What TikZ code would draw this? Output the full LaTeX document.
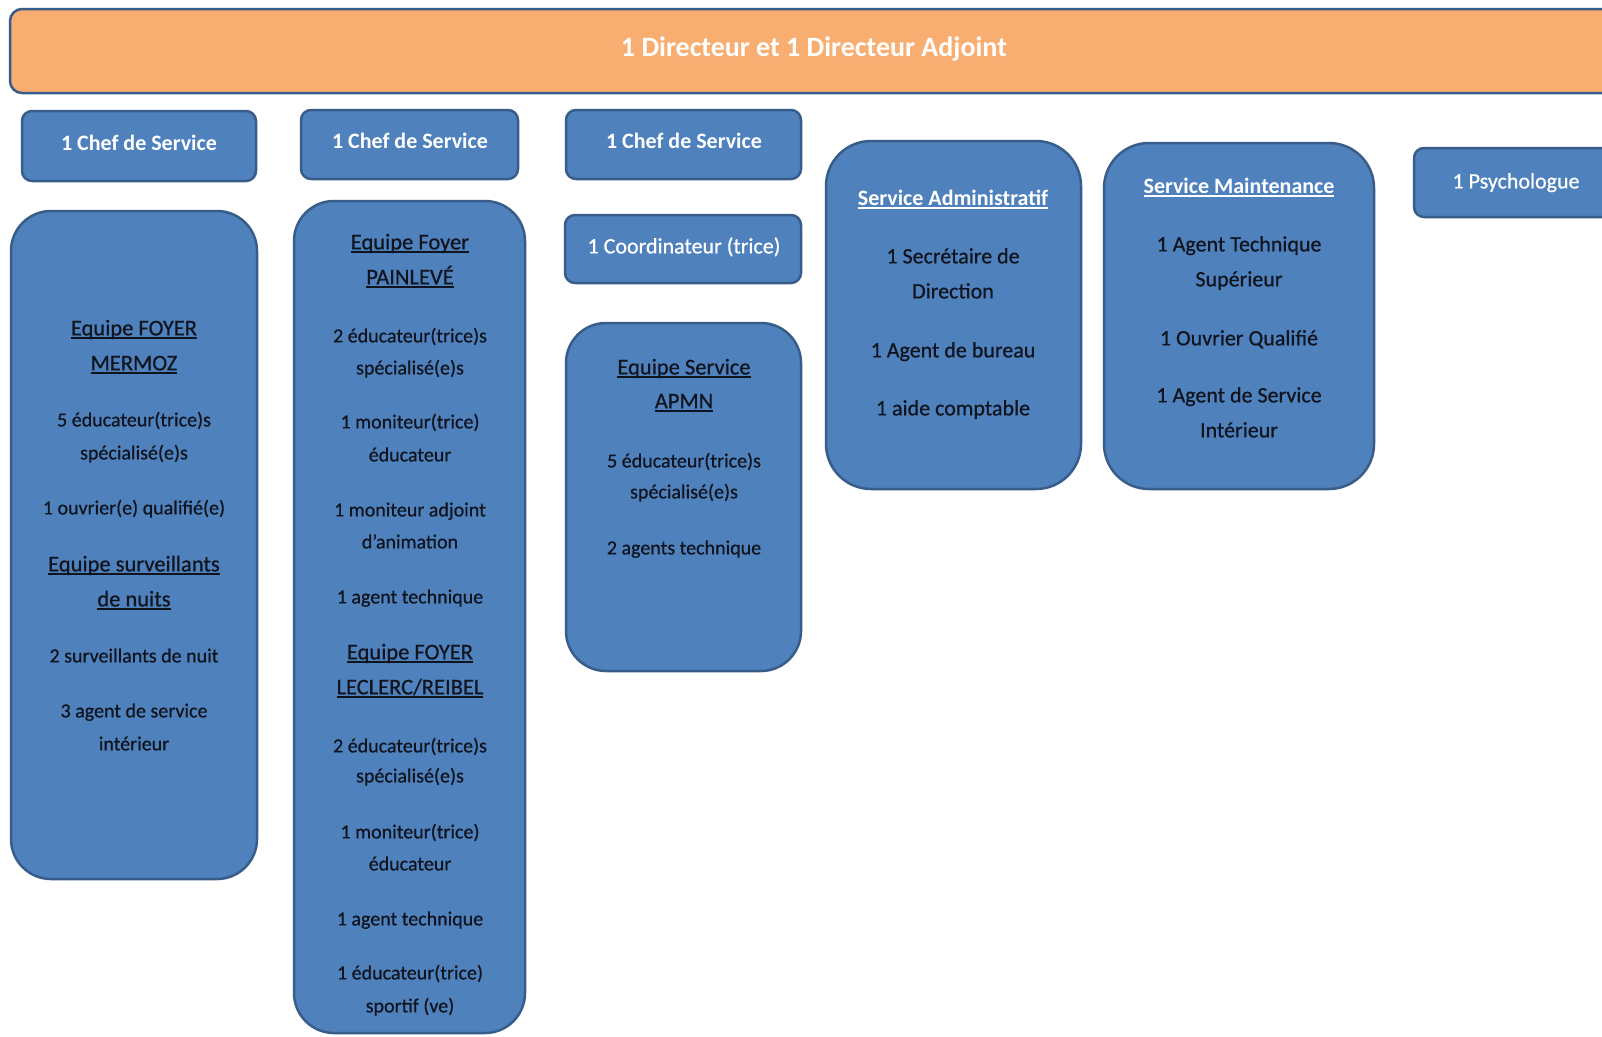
\documentclass[tikz,border=0pt]{standalone}
\usepackage{fontspec}
\setmainfont{Carlito}
\newfontfamily\heavyfont[FakeBold=0.6]{Carlito}
\definecolor{boxblue}{RGB}{79,129,189}
\definecolor{boxline}{RGB}{56,93,138}
\definecolor{orangefill}{RGB}{247,174,112}
\definecolor{darktxt}{RGB}{16,20,30}
\newcommand\myul[1]{\setbox0\hbox{#1}\rlap{\rule[-3.2pt]{\wd0}{1.6pt}}\box0}
\tikzset{
  card/.style={draw=boxline, line width=2.5pt, fill=boxblue, rounded corners=#1,
    anchor=north west, inner sep=0pt, outer sep=0pt},
  card/.default=10pt,
  hdrtext/.style={text=white, font=\fontsize{28}{32}\selectfont\bfseries, anchor=mid, inner sep=0pt, yshift=-8pt},
  wtext/.style={text=white, font=\heavyfont\fontsize{22}{26}\selectfont, anchor=mid, inner sep=0pt, yshift=-6pt},
  wbold/.style={text=white, font=\fontsize{22}{26}\selectfont\bfseries, anchor=mid, inner sep=0pt, yshift=-6pt},
  ttl/.style={text=darktxt, font=\heavyfont\fontsize{22.5}{26}\selectfont, anchor=mid, inner sep=0pt, yshift=-6pt},
  itm/.style={text=darktxt, font=\heavyfont\fontsize{20}{24}\selectfont, anchor=mid, inner sep=0pt, yshift=-6pt},
  itmL/.style={text=darktxt, font=\heavyfont\fontsize{22}{26}\selectfont, anchor=mid, inner sep=0pt, yshift=-6pt},
}
\begin{document}
\begin{tikzpicture}[x=1pt,y=-1pt]
\path[use as bounding box] (0,0) rectangle (1602,1036);
\clip (0,0) rectangle (1602,1036);
\fill[white] (0,0) rectangle (1602,1036);

% boxes
\node[card=12pt, fill=orangefill, minimum width=1610pt, minimum height=84pt] (dir) at (10,9) {};
\node[card, minimum width=234pt, minimum height=70pt] (chef1) at (22,111) {};
\node[card, minimum width=217pt, minimum height=69pt] (chef2) at (301,110) {};
\node[card, minimum width=235pt, minimum height=69pt] (chef3) at (566,110) {};
\node[card, minimum width=236pt, minimum height=68pt] (coord) at (565,215) {};
\node[card, minimum width=226pt, minimum height=69pt] (psy) at (1414,148) {};
\node[card=40pt, minimum width=246pt, minimum height=668pt] (col1) at (11,211) {};
\node[card=40pt, minimum width=231pt, minimum height=832pt] (col2) at (294,201) {};
\node[card=40pt, minimum width=235pt, minimum height=348pt] (apmn) at (566,323) {};
\node[card=45pt, minimum width=255pt, minimum height=348pt] (admin) at (826,141) {};
\node[card=45pt, minimum width=270pt, minimum height=346pt] (maint) at (1104,143) {};

% header texts
\node[hdrtext] (dirt) at (814,46) {1 Directeur et 1 Directeur Adjoint};
\node[wbold] (chef1t) at (139,142) {1 Chef de Service};
\node[wbold] (chef2t) at (410,140) {1 Chef de Service};
\node[wbold] (chef3t) at (684,140) {1 Chef de Service};
\node[wtext] (coordt) at (684,245) {1 Coordinateur (trice)};
\node[wtext] (psyt) at (1516,180) {1 Psychologue};

% column 1
\node[ttl] (c1a) at (134,327) {\myul{Equipe FOYER}};
\node[ttl] (c1b) at (134,362) {\myul{MERMOZ}};
\node[itm] (c1c) at (134,418) {5 éducateur(trice)s};
\node[itm] (c1d) at (134,451) {spécialisé(e)s};
\node[itm] (c1e) at (134,506) {1 ouvrier(e) qualifié(e)};
\node[ttl] (c1f) at (134,563) {\myul{Equipe surveillants}};
\node[ttl] (c1g) at (134,598) {\myul{de nuits}};
\node[itm] (c1h) at (134,654) {2 surveillants de nuit};
\node[itm] (c1i) at (134,709) {3 agent de service};
\node[itm] (c1j) at (134,742) {intérieur};

% column 2
\node[ttl] (c2a) at (410,241) {\myul{Equipe Foyer}};
\node[ttl] (c2b) at (410,276) {\myul{PAINLEVÉ}};
\node[itm] (c2c) at (410,334) {2 éducateur(trice)s};
\node[itm] (c2d) at (410,366) {spécialisé(e)s};
\node[itm] (c2e) at (410,420) {1 moniteur(trice)};
\node[itm] (c2f) at (410,453) {éducateur};
\node[itm] (c2g) at (410,508) {1 moniteur adjoint};
\node[itm] (c2h) at (410,540) {d’animation};
\node[itm] (c2i) at (410,595) {1 agent technique};
\node[ttl] (c2j) at (410,651) {\myul{Equipe FOYER}};
\node[ttl] (c2k) at (410,686) {\myul{LECLERC/REIBEL}};
\node[itm] (c2l) at (410,744) {2 éducateur(trice)s};
\node[itm] (c2m) at (410,774) {spécialisé(e)s};
\node[itm] (c2n) at (410,830) {1 moniteur(trice)};
\node[itm] (c2o) at (410,862) {éducateur};
\node[itm] (c2p) at (410,917) {1 agent technique};
\node[itm] (c2q) at (410,971) {1 éducateur(trice)};
\node[itm] (c2r) at (410,1004) {sportif (ve)};

% APMN
\node[ttl] (apa) at (684,366) {\myul{Equipe Service}};
\node[ttl] (apb) at (684,400) {\myul{APMN}};
\node[itm] (apc) at (684,459) {5 éducateur(trice)s};
\node[itm] (apd) at (684,490) {spécialisé(e)s};
\node[itm] (ape) at (684,546) {2 agents technique};

% Administratif
\node[wbold] (ada) at (953,197) {\myul{Service Administratif}};
\node[itmL] (adb) at (953,255) {1 Secrétaire de};
\node[itmL] (adc) at (953,290) {Direction};
\node[itmL] (add) at (953,349) {1 Agent de bureau};
\node[itmL] (ade) at (953,407) {1 aide comptable};

% Maintenance
\node[wbold] (mta) at (1239,185) {\myul{Service Maintenance}};
\node[itmL] (mtb) at (1239,243) {1 Agent Technique};
\node[itmL] (mtc) at (1239,278) {Supérieur};
\node[itmL] (mtd) at (1239,337) {1 Ouvrier Qualifié};
\node[itmL] (mte) at (1239,394) {1 Agent de Service};
\node[itmL] (mtf) at (1239,429) {Intérieur};
\end{tikzpicture}
\end{document}
